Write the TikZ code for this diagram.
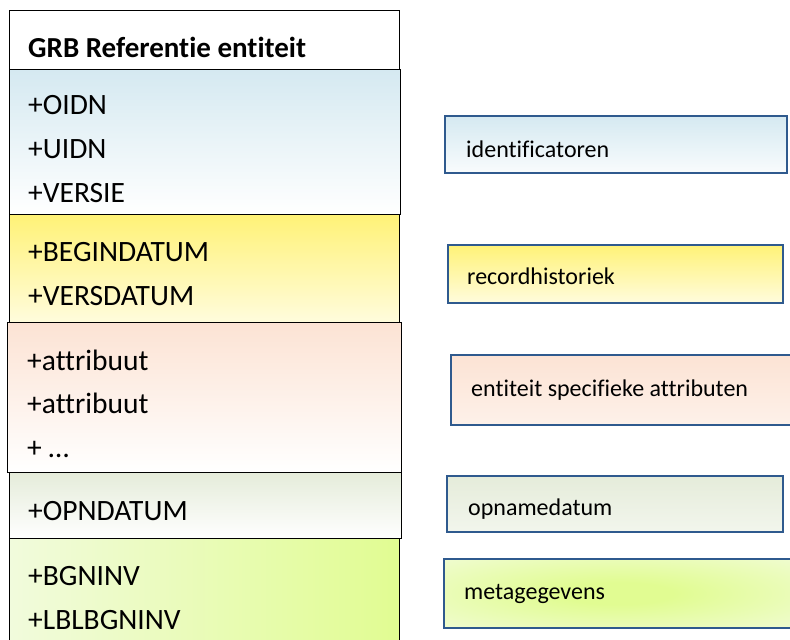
\documentclass[tikz,border=0pt]{standalone}
\usepackage{fontspec}
\setmainfont{Carlito}[Ligatures=NoCommon]
\usetikzlibrary{positioning}

\definecolor{idblauw}{HTML}{D5E9F1}
\definecolor{histgeel}{HTML}{FFF277}
\definecolor{histlicht}{HTML}{FFFCDD}
\definecolor{attrzalm}{HTML}{FCE3D4}
\definecolor{opngrijs}{HTML}{E5ECDA}
\definecolor{metalime}{HTML}{E1FC92}
\definecolor{metableek}{HTML}{F1FBDC}
\definecolor{legrand}{HTML}{2F5A8E}

\pgfdeclareradialshading{limegloed}{\pgfpoint{0bp}{0bp}}{color(0bp)=(metalime); color(8bp)=(metalime); color(46bp)=(metableek!70!white); color(50bp)=(metableek!70!white)}

\tikzset{
	vak/.style={draw=black,line width=1.4pt,anchor=north west,inner sep=0pt},
	legende/.style={draw=legrand,line width=1.8pt,anchor=north west,inner sep=0pt},
	attr/.style={anchor=base west,inner sep=0pt,font=\fontsize{29.5}{32}\selectfont},
	legtekst/.style={anchor=base west,inner sep=0pt,font=\fontsize{24}{27}\selectfont}
}

\begin{document}
\begin{tikzpicture}[x=1pt,y=-1pt]
			\useasboundingbox[fill=white] (0,0) rectangle (790,640);
			% klassevakken
			\node[vak,fill=white,minimum width=390pt,minimum height=59pt] (kop) at (9,10) {};
			\node[vak,top color=idblauw,bottom color=white,minimum width=391pt,minimum height=145pt] (ids) at (9,69) {};
			\node[vak,top color=histgeel,bottom color=histlicht,minimum width=390pt,minimum height=108pt] (hist) at (9,214) {};
			\node[vak,top color=attrzalm,bottom color=white,minimum width=394pt,minimum height=150pt] (attrs) at (7,322) {};
			\node[vak,top color=opngrijs,bottom color=white,minimum width=392pt,minimum height=66pt] (opn) at (9,472) {};
			\node[vak,left color=metableek,right color=metalime,minimum width=390pt,minimum height=106pt] (meta) at (9,538) {};
			% teksten links
			\node[attr,font=\fontsize{29}{32}\selectfont\bfseries] (titel) at (28,57) {GRB Referentie entiteit};
			\node[attr] (oidn) at (28,114) {+OIDN};
			\node[attr] (uidn) at (28,158) {+UIDN};
			\node[attr] (versie) at (28,202) {+VERSIE};
			\node[attr] (begindatum) at (28,261) {+BEGINDATUM};
			\node[attr] (versdatum) at (28,305) {+VERSDATUM};
			\node[attr] (attr1) at (27,370) {+attribuut};
			\node[attr] (attr2) at (27,413) {+attribuut};
			\node[attr] (attr3) at (27,457) {+ …};
			\node[attr] (opndatum) at (28,520) {+OPNDATUM};
			\node[attr] (bgninv) at (28,585) {+BGNINV};
			\node[attr] (lblbgninv) at (28,629) {+LBLBGNINV};
			% legende rechts
			\node[legende,top color=idblauw,bottom color=idblauw!15!white,minimum width=342pt,minimum height=57pt] (legid) at (444,115) {};
			\node[legende,top color=histgeel,bottom color=histlicht,minimum width=335pt,minimum height=58pt] (leghist) at (447,244) {};
			\node[legende,top color=attrzalm,bottom color=attrzalm!50!white,minimum width=342pt,minimum height=70pt] (legattr) at (450,354) {};
			\node[legende,top color=opngrijs,bottom color=opngrijs!50!white,minimum width=336pt,minimum height=56pt] (legopn) at (446,475) {};
			\node[legende,shading=limegloed,minimum width=348pt,minimum height=69pt] (legmeta) at (443,558) {};
			\node[legtekst] (tid) at (466,157) {identificatoren};
			\node[legtekst] (thist) at (467,284) {recordhistoriek};
			\node[legtekst] (tattr) at (471,396) {entiteit specifieke attributen};
			\node[legtekst] (topn) at (468,515) {opnamedatum};
			\node[legtekst] (tmeta) at (464,599) {metagegevens};
		\end{tikzpicture}
\end{document}
